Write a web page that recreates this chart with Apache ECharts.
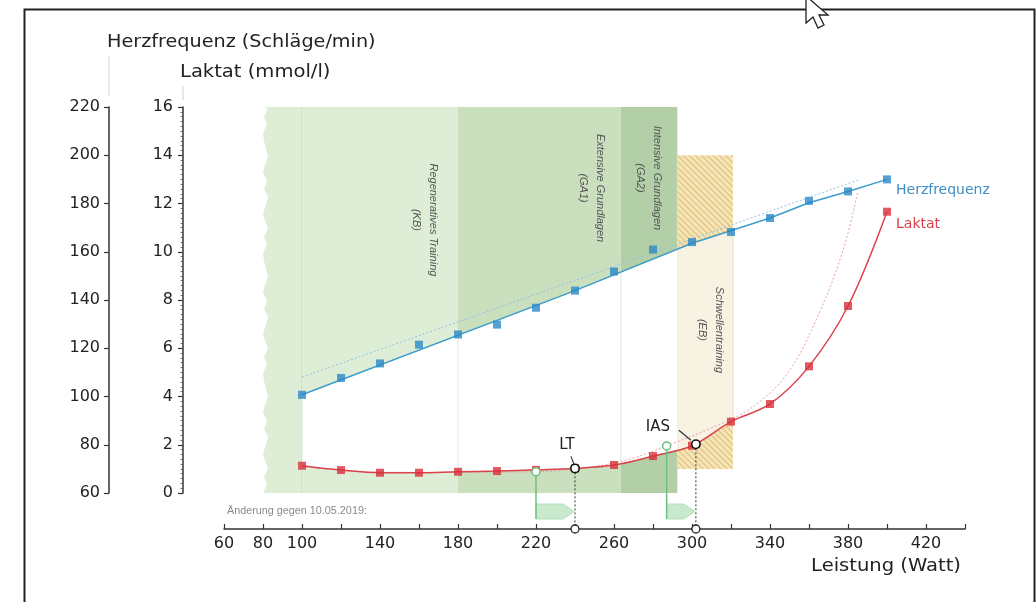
<!DOCTYPE html>
<html>
<head>
<meta charset="utf-8">
<script src="https://cdn.jsdelivr.net/npm/echarts@6/dist/echarts.min.js"></script>
<style>
html, body { margin: 0; padding: 0; background: #fff; }
#main { width: 1036px; height: 602px; }
</style>
</head>
<body>
<div id="main"></div>
<script>
// Stufentest: Leistung in Watt
const watts = [100, 120, 140, 160, 180, 200, 220, 240, 260, 280, 300, 320, 340, 360, 380, 400];
const herzfrequenz = [100.7, 107.7, 113.7, 121.5, 125.7, 129.8, 136.8, 143.9, 151.8, 160.9, 164.0, 168.2, 174.0, 181.1, 185.0, 190.0];
const laktat = [1.13, 0.95, 0.84, 0.84, 0.88, 0.91, 0.96, 1.02, 1.16, 1.53, 1.96, 2.96, 3.69, 5.25, 7.75, 11.66];

// Ausgleichslinie Herzfrequenz
const hfTrendWatt = [100, 240, 300, 340, 360, 380, 400];
const hfTrend = [100.7, 143.9, 163.5, 174.0, 180.3, 185.0, 190.0];

// Vortest (10.05.2019), gepunktet
const hfVorWatt = [100, 385];
const hfVor = [108, 189.7];
const lakVorWatt = [100, 140, 180, 220, 250, 270, 287, 310, 330, 349, 366, 378, 385];
const lakVor = [1.1, 0.86, 0.86, 0.88, 1.1, 1.45, 1.95, 2.7, 3.5, 4.96, 7.6, 10.2, 12.5];

// Schwellen neu / alt
const schwellen = ['LT', 'IAS'];
const schwelleWatt = [240, 302];
const schwelleLaktat = [1.02, 2.02];
const vorherWatt = [220, 287];
const vorherLaktat = [0.88, 1.95];

// Trainingsbereiche
const zonen = ['Regeneratives Training\n(KB)', 'Extensive Grundlagen\n(GA1)', 'Intensive Grundlagen\n(GA2)', 'Schwellentraining\n(EB)'];
const zoneVon = [80, 180, 263.5, 292.5];
const zoneBis = [180, 263.5, 292.5, 321];
const zoneOben = [16, 16, 16, 14];
const zoneUnten = [0, 0, 0, 1];

const xTickLabels = [60, 80, 100, 140, 180, 220, 260, 300, 340, 380, 420];

// Layout / Stil
const FONT = 'DejaVu Sans, Liberation Sans, sans-serif';
const zoneFarben = ['#deeed6', '#c9dfbe', '#b3cfa7', null];
const zoneLabelAt = [[162.6, 11.32], [248.7, 12.64], [277.7, 13.06], [309.7, 6.76]];
const schwelleLabelOffset = [[-8, -23], [-38, -17]];
const schwelleLeader = [[[-4, -12], [-1, -4]], [[-17, -14], [-5, -4]]];
const fransen = [0, 4, 1, 5, 2, 0, 3, 5, 1, 4, 0, 2, 5, 3, 1]; // ausgefranster Rand links

const toLak = hf => (hf - 60) / 10; // HF 60..220 liegt auf Laktat 0..16

function interp(xs, ys, x) {
  for (let k = 0; k < xs.length - 1; k++) {
    if (x >= xs[k] && x <= xs[k + 1]) {
      const t = (x - xs[k]) / (xs[k + 1] - xs[k]);
      return ys[k] + t * (ys[k + 1] - ys[k]);
    }
  }
  return ys[ys.length - 1];
}

function curvePts(xs, ys, a, b, conv) {
  const pts = [[a, conv(interp(xs, ys, a))]];
  xs.forEach((x, k) => { if (x > a && x < b) pts.push([x, conv(ys[k])]); });
  pts.push([b, conv(interp(xs, ys, b))]);
  return pts;
}

function schraffur() {
  const c = document.createElement('canvas');
  c.width = 6; c.height = 6;
  const g = c.getContext('2d');
  g.fillStyle = '#f5e4b8';
  g.fillRect(0, 0, 6, 6);
  g.strokeStyle = '#e0c07a';
  g.lineWidth = 1.1;
  g.beginPath();
  g.moveTo(0, 0); g.lineTo(6, 6);
  g.moveTo(-3, 3); g.lineTo(3, 9);
  g.moveTo(3, -3); g.lineTo(9, 3);
  g.stroke();
  return c;
}
const hatch = { image: schraffur(), repeat: 'repeat' };

function renderZonen(params, api) {
  const children = [];
  zonen.forEach((name, i) => {
    const p0 = api.coord([zoneVon[i], zoneOben[i]]);
    const p1 = api.coord([zoneBis[i], zoneUnten[i]]);
    if (i === 0) {
      const xs = api.coord([watts[0], 0])[0];
      const pts = [[p1[0], p0[1]], [p1[0], p1[1]]];
      let k = 0;
      for (let y = p1[1]; y >= p0[1]; y -= 8, k++) {
        pts.push([p0[0] + fransen[k % fransen.length], y]);
      }
      pts.push([p0[0] + 2, p0[1]]);
      children.push({ type: 'polygon', shape: { points: pts }, style: { fill: zoneFarben[0] } });
      children.push({ type: 'rect', shape: { x: xs - 1, y: p0[1], width: 1, height: p1[1] - p0[1] }, style: { fill: '#cfe2c5' } });
    } else if (i === 3) {
      children.push({ type: 'rect', shape: { x: p0[0], y: p0[1], width: p1[0] - p0[0], height: p1[1] - p0[1] }, style: { fill: hatch } });
    } else {
      children.push({ type: 'rect', shape: { x: p0[0], y: p0[1], width: p1[0] - p0[0], height: p1[1] - p0[1] }, style: { fill: zoneFarben[i] } });
    }
  });
  // Bereich zwischen HF- und Laktatkurve
  zonen.forEach((name, i) => {
    const a = Math.max(zoneVon[i], watts[0]);
    const b = zoneBis[i];
    const oben = curvePts(hfTrendWatt, hfTrend, a, b, toLak);
    const unten = curvePts(watts, laktat, a, b, v => v).reverse();
    const pts = oben.concat(unten).map(p => api.coord(p));
    children.push({ type: 'polygon', shape: { points: pts }, style: { fill: i === 3 ? '#f7f2e1' : '#ffffff' } });
    if (i < 3) {
      const t = api.coord(oben[0]);
      const u = api.coord(unten[unten.length - 1]);
      children.push({ type: 'line', shape: { x1: t[0], y1: t[1], x2: u[0], y2: u[1] }, style: { stroke: '#e4e8e2', lineWidth: 1 } });
    } else {
      const t = api.coord(oben[oben.length - 1]);
      const u = api.coord(unten[0]);
      children.push({ type: 'line', shape: { x1: t[0], y1: t[1], x2: u[0], y2: u[1] }, style: { stroke: '#e2dccb', lineWidth: 1 } });
    }
  });
  zonen.forEach((name, i) => {
    const c = api.coord(zoneLabelAt[i]);
    children.push({
      type: 'text', x: c[0], y: c[1], rotation: -Math.PI / 2,
      style: {
        text: name, fill: '#555', fontSize: 11, fontStyle: 'italic', lineHeight: 17,
        fontFamily: 'Liberation Sans Narrow, Liberation Sans, sans-serif',
        align: 'center', verticalAlign: 'middle'
      }
    });
  });
  return { type: 'group', children };
}

function renderSchwellen(params, api) {
  const i = params.dataIndex;
  const c = api.coord([api.value(0), api.value(1)]);
  const axisY = api.coord([api.value(0), 0])[1] + 36;
  const alt = api.coord([api.value(2), api.value(3)]);
  const basis = api.coord([api.value(2), 0])[1];
  const gruen = '#6cc27a';
  const flagTop = basis + 11, flagBot = basis + 26;
  const children = [
    { type: 'polygon', shape: { points: [[alt[0], flagTop], [c[0] - 12, flagTop], [c[0] - 1, (flagTop + flagBot) / 2], [c[0] - 12, flagBot], [alt[0], flagBot]] },
      style: { fill: '#c9e9cd', stroke: '#b4dfba', lineWidth: 1 } },
    { type: 'line', shape: { x1: alt[0], y1: alt[1] + 4, x2: alt[0], y2: flagBot }, style: { stroke: gruen, lineWidth: 1.5 } },
    { type: 'circle', shape: { cx: alt[0], cy: alt[1], r: 4 }, style: { fill: '#fff', stroke: gruen, lineWidth: 1.5 } },
    { type: 'line', shape: { x1: c[0], y1: c[1], x2: c[0], y2: axisY }, style: { stroke: '#333', lineWidth: 1, lineDash: [2, 2] } },
    { type: 'circle', shape: { cx: c[0], cy: axisY, r: 4 }, style: { fill: '#fff', stroke: '#222', lineWidth: 1.3 } },
    { type: 'line', shape: { x1: c[0] + schwelleLeader[i][0][0], y1: c[1] + schwelleLeader[i][0][1], x2: c[0] + schwelleLeader[i][1][0], y2: c[1] + schwelleLeader[i][1][1] },
      style: { stroke: '#333', lineWidth: 1.2 } },
    { type: 'circle', shape: { cx: c[0], cy: c[1], r: 4.2 }, style: { fill: '#fff', stroke: '#111', lineWidth: 1.6 } },
    { type: 'text', x: c[0] + schwelleLabelOffset[i][0], y: c[1] + schwelleLabelOffset[i][1],
      style: { text: schwellen[i], fill: '#222', fontSize: 15, fontFamily: FONT, align: 'center', verticalAlign: 'middle' } }
  ];
  return { type: 'group', children };
}

const zip = (xs, ys) => xs.map((x, k) => [x, ys[k]]);

const chart = echarts.init(document.getElementById('main'), null, { renderer: 'canvas' });
chart.setOption({
  animation: false,
  backgroundColor: '#fff',
  grid: { left: 224, right: 71, top: 107, bottom: 109, outerBoundsMode: 'none' },
  xAxis: {
    type: 'value', min: 60, max: 440, interval: 20, offset: 36,
    axisLine: { onZero: false, lineStyle: { color: '#333', width: 1.5 } },
    axisTick: { inside: true, length: 5, lineStyle: { color: '#333', width: 1.2 } },
    axisLabel: { formatter: v => xTickLabels.includes(v) ? String(v) : '', color: '#222', fontSize: 16, fontFamily: FONT, margin: 7 },
    splitLine: { show: false }
  },
  yAxis: [
    {
      type: 'value', min: 60, max: 220, interval: 20, position: 'left', offset: 115,
      axisLine: { show: true, lineStyle: { color: '#333', width: 1.5 } },
      axisTick: { show: true, length: 5, lineStyle: { color: '#333', width: 1.2 } },
      axisLabel: { color: '#222', fontSize: 16, fontFamily: FONT, margin: 9 },
      splitLine: { show: false }
    },
    {
      type: 'value', min: 0, max: 16, interval: 2, position: 'left', offset: 41,
      axisLine: { show: true, lineStyle: { color: '#333', width: 1.5 } },
      axisTick: { show: true, length: 5, lineStyle: { color: '#333', width: 1.2 } },
      minorTick: { show: true, splitNumber: 10, length: 2.5, lineStyle: { color: '#555', width: 0.8 } },
      axisLabel: { color: '#222', fontSize: 16, fontFamily: FONT, margin: 10 },
      splitLine: { show: false }
    }
  ],
  series: [
    { type: 'custom', name: 'Bereiche', coordinateSystem: 'cartesian2d', yAxisIndex: 1, silent: true, z: 1,
      data: [[watts[0], 0]], renderItem: renderZonen },
    { type: 'line', name: 'HF Vortest', yAxisIndex: 0, data: zip(hfVorWatt, hfVor), symbol: 'none', z: 3,
      lineStyle: { color: '#8ec6e4', width: 1, type: [2, 2] } },
    { type: 'line', name: 'Laktat Vortest', yAxisIndex: 1, data: zip(lakVorWatt, lakVor), symbol: 'none', smooth: 0.35, z: 3,
      lineStyle: { color: '#e8a1a7', width: 1, type: [2, 2] } },
    { type: 'line', name: 'Herzfrequenz', yAxisIndex: 0, data: zip(hfTrendWatt, hfTrend), symbol: 'none', z: 4,
      lineStyle: { color: '#3c9ccd', width: 1.5 },
      endLabel: { show: true, formatter: 'Herzfrequenz', color: '#3d8fc4', fontSize: 14, fontFamily: FONT, offset: [1, 11] } },
    { type: 'line', name: 'Laktat', yAxisIndex: 1, data: zip(watts, laktat), symbol: 'none', smooth: 0.35, z: 4,
      lineStyle: { color: '#d9434b', width: 1.5 },
      endLabel: { show: true, formatter: 'Laktat', color: '#d6404a', fontSize: 14, fontFamily: FONT, offset: [1, 13] } },
    { type: 'scatter', name: 'HF Stufen', yAxisIndex: 0, data: zip(watts, herzfrequenz), symbol: 'rect', symbolSize: 8, z: 5,
      itemStyle: { color: '#2c87c7' } },
    { type: 'scatter', name: 'Laktat Stufen', yAxisIndex: 1, data: zip(watts, laktat), symbol: 'rect', symbolSize: 8, z: 5,
      itemStyle: { color: '#d8303a' } },
    { type: 'custom', name: 'Schwellen', coordinateSystem: 'cartesian2d', yAxisIndex: 1, silent: true, z: 6, clip: false,
      data: schwelleWatt.map((w, i) => [w, schwelleLaktat[i], vorherWatt[i], vorherLaktat[i]]),
      renderItem: renderSchwellen }
  ],
  graphic: [
    { type: 'rect', left: 22, top: 7, shape: { width: 1010, height: 620 }, style: { fill: 'none', stroke: '#222', lineWidth: 2 }, z: 10 },
    { type: 'line', shape: { x1: 109, y1: 56, x2: 109, y2: 96 }, style: { stroke: '#cfcfcf', lineWidth: 1 } },
    { type: 'line', shape: { x1: 183, y1: 86, x2: 183, y2: 100 }, style: { stroke: '#cfcfcf', lineWidth: 1 } },
    { type: 'text', x: 107, y: 43, scaleX: 1.13, style: { text: 'Herzfrequenz (Schläge/min)', fill: '#222', fontSize: 17, fontFamily: FONT, verticalAlign: 'middle' } },
    { type: 'text', x: 180, y: 73, scaleX: 1.15, style: { text: 'Laktat (mmol/l)', fill: '#222', fontSize: 17, fontFamily: FONT, verticalAlign: 'middle' } },
    { type: 'text', x: 961, y: 567, scaleX: 1.15, style: { text: 'Leistung (Watt)', fill: '#222', fontSize: 17, fontFamily: FONT, align: 'right', verticalAlign: 'middle' } },
    { type: 'text', x: 227, y: 511, style: { text: 'Änderung gegen 10.05.2019:', fill: '#8a8a8a', fontSize: 10.8, fontFamily: 'Liberation Sans, sans-serif', verticalAlign: 'middle' } },
    { type: 'polygon', x: 806, y: -4, z: 20,
      shape: { points: [[0, 0], [0, 27], [7, 21], [12, 32], [18, 29], [13, 19], [22, 19]] },
      style: { fill: '#fff', stroke: '#222', lineWidth: 1.3 } }
  ]
});
</script>
</body>
</html>
